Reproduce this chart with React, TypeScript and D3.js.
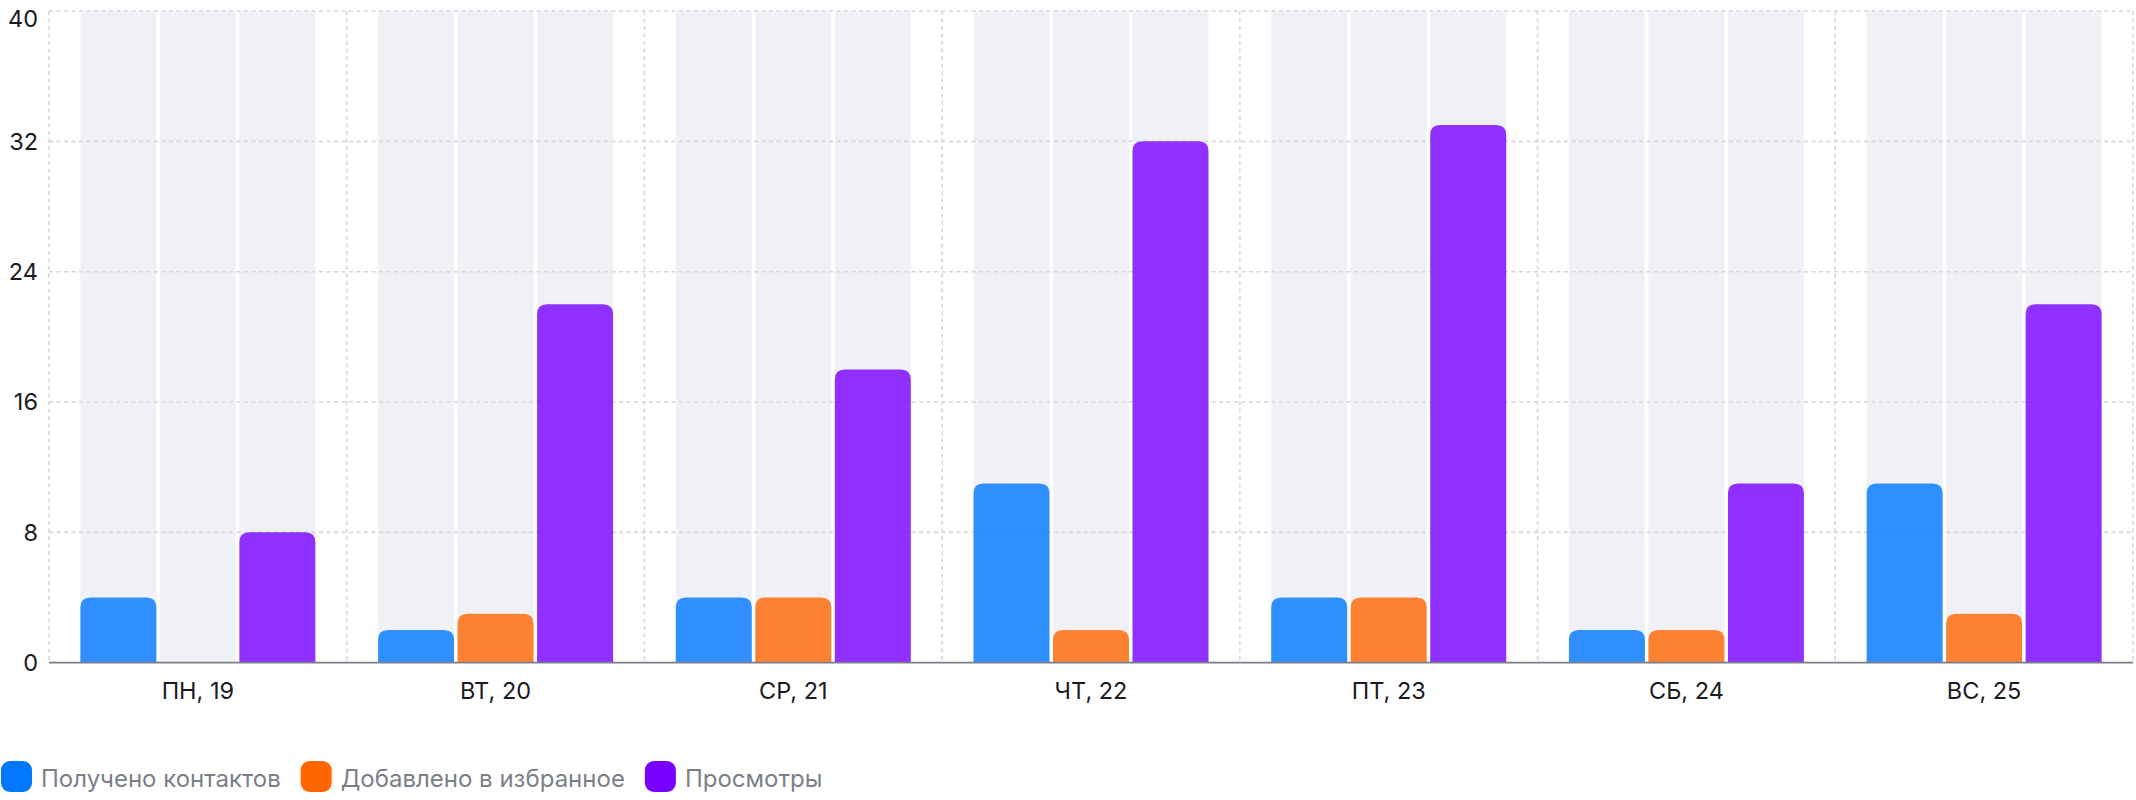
import React, { useEffect, useRef } from "react";
import * as d3 from "d3";

const days = ["ПН, 19", "ВТ, 20", "СР, 21", "ЧТ, 22", "ПТ, 23", "СБ, 24", "ВС, 25"];
const contacts = [4, 2, 4, 11, 4, 2, 11];
const favorites = [0, 3, 4, 2, 4, 2, 3];
const views = [8, 22, 18, 32, 33, 11, 22];
const seriesNames = ["Получено контактов", "Добавлено в избранное", "Просмотры"];
const seriesColors = ["#0077ff", "#ff6600", "#7700ff"];
const yTicks = [0, 8, 16, 24, 32, 40];

const W = 2136;
const H = 800;

function topRoundedPath(x: number, y: number, w: number, h: number, r: number) {
  const rr = Math.min(r, h, w / 2);
  return `M${x},${y + h}V${y + rr}Q${x},${y} ${x + rr},${y}H${x + w - rr}Q${x + w},${y} ${x + w},${y + rr}V${y + h}Z`;
}

export default function App() {
  const ref = useRef<SVGSVGElement | null>(null);

  useEffect(() => {
    document.body.style.margin = "0";
    const svg = d3.select(ref.current);
    svg.selectAll("*").remove();

    const left = 49, right = 2133, top = 11, bottom = 662.7;
    const y = d3.scaleLinear().domain([0, 40]).range([bottom, top]);
    const x0 = d3.scaleBand<string>().domain(days).range([left, right]).padding(0);
    const inner = (x0.bandwidth() - 235) / 2;
    const x1 = d3
      .scaleBand<number>()
      .domain([0, 1, 2])
      .range([inner, inner + 235])
      .paddingInner(0.044);

    const series = [contacts, favorites, views];
    const font = "Inter, 'Noto Sans', sans-serif";

    // background bands
    const g = svg.append("g");
    days.forEach((d) => {
      [0, 1, 2].forEach((s) => {
        g.append("rect")
          .attr("x", (x0(d) as number) + (x1(s) as number))
          .attr("y", top)
          .attr("width", x1.bandwidth())
          .attr("height", bottom - top)
          .attr("fill", "#f0f1f7");
      });
    });

    // grid
    const grid = svg.append("g").attr("stroke", "#d6d6dc").attr("stroke-width", 1.6).attr("stroke-dasharray", "4 3.5");
    yTicks.filter((t) => t > 0).forEach((t) => {
      grid.append("line").attr("x1", left).attr("x2", right).attr("y1", y(t)).attr("y2", y(t));
    });
    const bounds = days.map((d) => x0(d) as number).concat([right]);
    bounds.forEach((bx) => {
      grid.append("line").attr("x1", bx).attr("x2", bx).attr("y1", top).attr("y2", bottom);
    });

    // bars
    const bars = svg.append("g");
    days.forEach((d, i) => {
      series.forEach((vals, s) => {
        const v = vals[i];
        if (v <= 0) return;
        const bx = (x0(d) as number) + (x1(s) as number);
        const by = y(v);
        bars
          .append("path")
          .attr("d", topRoundedPath(bx, by, x1.bandwidth(), y(0) - by, 10))
          .attr("fill", seriesColors[s])
          .attr("fill-opacity", 0.8);
      });
    });

    // x axis line
    svg.append("line")
      .attr("x1", left).attr("x2", right)
      .attr("y1", bottom).attr("y2", bottom)
      .attr("stroke", "#7c7c88").attr("stroke-width", 1.8);

    // y labels
    yTicks.forEach((t) => {
      svg.append("text")
        .attr("x", 38)
        .attr("y", Math.max(y(t), 19))
        .attr("dy", "0.36em")
        .attr("text-anchor", "end")
        .attr("font-family", font)
        .attr("font-size", 23.5)
        .attr("fill", "#1a1a1f")
        .text(String(t));
    });

    // x labels
    days.forEach((d) => {
      svg.append("text")
        .attr("x", (x0(d) as number) + x0.bandwidth() / 2)
        .attr("y", 698.5)
        .attr("text-anchor", "middle")
        .attr("font-family", font)
        .attr("font-size", 23.5)
        .attr("fill", "#1a1a1f")
        .text(d);
    });

    // legend
    let lx = 1;
    const legend = svg.append("g");
    seriesNames.forEach((name, s) => {
      legend.append("rect")
        .attr("x", lx).attr("y", 761)
        .attr("width", 31).attr("height", 31)
        .attr("rx", 9)
        .attr("fill", seriesColors[s]);
      const t = legend.append("text")
        .attr("x", lx + 40)
        .attr("y", 787)
        .attr("font-family", font)
        .attr("font-size", 24)
        .attr("fill", "#7a7f8a")
        .text(name);
      const tw = (t.node() as SVGTextElement).getComputedTextLength();
      lx = lx + 40 + tw + 20;
    });
  }, []);

  return (
    <svg
      ref={ref}
      width={W}
      height={H}
      style={{ position: "absolute", left: 0, top: 0, display: "block" }}
    />
  );
}
